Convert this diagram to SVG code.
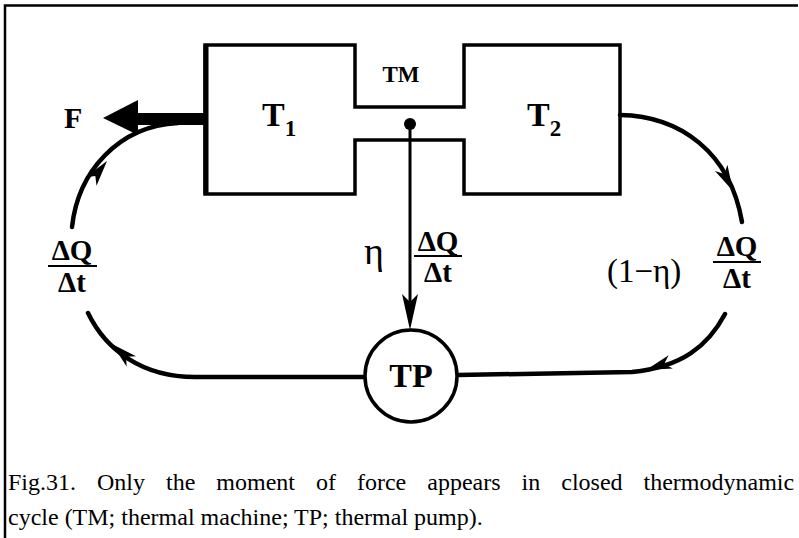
<svg xmlns="http://www.w3.org/2000/svg" xmlns:xlink="http://www.w3.org/1999/xlink" width="799" height="538" viewBox="0 0 799 538">
<style>
.ln{fill:none;stroke:#000;stroke-width:4.5;stroke-linecap:round}
.box{fill:none;stroke:#000;stroke-width:3.5;stroke-linejoin:miter}
.b{font-family:"Liberation Serif","Times New Roman",serif;font-weight:bold;fill:#000}
.r{font-family:"Liberation Serif","Times New Roman",serif;fill:#000}
.bar{stroke:#000;stroke-width:2}
</style>
<defs>
<path id="ah" d="M0,0 L-26,-7 L-19,0 L-26,7 Z" fill="#000"/>
</defs>
<rect width="799" height="538" fill="#fff"/>
<path d="M5,538 V5.5 H798" fill="none" stroke="#000" stroke-width="2.5"/>
<g id="connectors">
<path class="ln" d="M72,227 C78,172 118,126 178,123"/>
<use xlink:href="#ah" transform="translate(107,161) rotate(-52)"/>
<path class="ln" d="M620,115 C680,116 730,152 742,222"/>
<use xlink:href="#ah" transform="translate(733,191) rotate(63)"/>
<path class="ln" d="M725,314 C708,346 682,367 632,372 L458,375"/>
<use xlink:href="#ah" transform="translate(646,370) rotate(162)"/>
<path class="ln" d="M367,377 L195,377 C142,377 106,350 88,313"/>
<use xlink:href="#ah" transform="translate(112,344) rotate(-138)"/>
<line x1="410" y1="124" x2="410" y2="305" stroke="#000" stroke-width="3"/>
<path d="M410,330 L402,294 L410,302 L418,294 Z" fill="#000"/>
</g>
<g id="F">
<path d="M103,118 L138,100 L138,113 L206,113 L206,125 L138,125 L138,135 Z" fill="#000"/>
<text class="b" x="64" y="128" font-size="30">F</text>
</g>
<g id="TM">
<path class="box" d="M205,45 H355 V107 H464 V45 H620 V194 H464 V140 H355 V194 H205 Z"/>
<line x1="206" y1="45" x2="206" y2="194" stroke="#000" stroke-width="5"/>
<circle cx="410" cy="124" r="6" fill="#000"/>
<text class="b" x="401" y="82" font-size="23" text-anchor="middle">TM</text>
<text class="b" x="262" y="126" font-size="34">T<tspan font-size="23" dy="10">1</tspan></text>
<text class="b" x="527" y="126" font-size="34">T<tspan font-size="23" dy="10">2</tspan></text>
</g>
<g id="TP">
<circle cx="411" cy="376" r="46" fill="#fff" stroke="#000" stroke-width="3.5"/>
<text class="b" x="411" y="387" font-size="34" text-anchor="middle">TP</text>
</g>
<g id="label-left">
<text class="b" x="72" y="260" font-size="29" text-anchor="middle">ΔQ</text>
<line class="bar" x1="48" y1="266" x2="97" y2="266"/>
<text class="b" x="72" y="292" font-size="29" text-anchor="middle">Δt</text>
</g>
<g id="label-mid">
<text class="r" x="374" y="264" font-size="38" text-anchor="middle">η</text>
<text class="b" x="438" y="251" font-size="29" text-anchor="middle">ΔQ</text>
<line class="bar" x1="414" y1="256" x2="462" y2="256"/>
<text class="b" x="438" y="282" font-size="29" text-anchor="middle">Δt</text>
</g>
<g id="label-right">
<text class="r" x="607" y="282" font-size="33">(1−η)</text>
<text class="b" x="737" y="256" font-size="29" text-anchor="middle">ΔQ</text>
<line class="bar" x1="713" y1="262" x2="761" y2="262"/>
<text class="b" x="737" y="288" font-size="29" text-anchor="middle">Δt</text>
</g>
<g id="caption">
<text class="r" x="8" y="490" font-size="24" word-spacing="15">Fig.31. Only the moment of force appears in closed thermodynamic</text>
<text class="r" x="8" y="525" font-size="24">cycle (TM; thermal machine; TP; thermal pump).</text>
</g>
</svg>
